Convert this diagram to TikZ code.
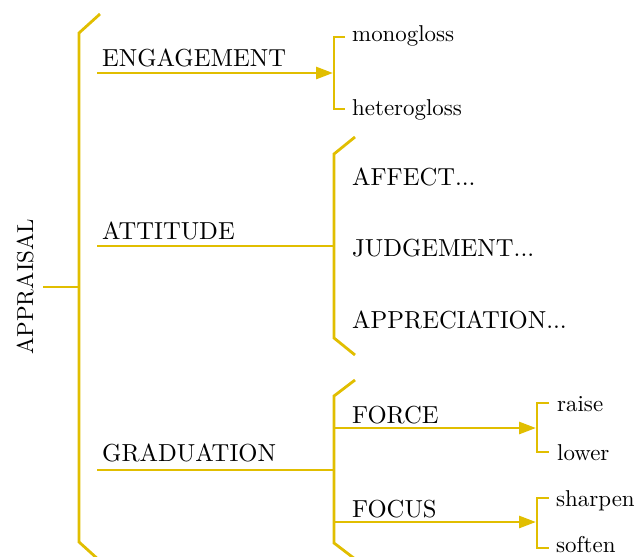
\documentclass[tikz,border=0pt]{standalone}
\usepackage{fontspec}
\setmainfont{lmroman10-regular}[Extension=.otf]
\usetikzlibrary{arrows.meta}
\definecolor{gold}{RGB}{225,190,0}
\tikzset{
  ln/.style={draw=gold, line width=2.8pt},
  arr/.style={ln, -{Triangle[length=17pt,width=12pt]}},
  captext/.style={anchor=base west, inner sep=0pt, font=\fontsize{24.6}{30}\selectfont},
  lowtext/.style={anchor=base west, inner sep=0pt, font=\fontsize{22.9}{28}\selectfont},
}
\begin{document}
\begin{tikzpicture}[x=1pt,y=-1pt]
\useasboundingbox (0,0) rectangle (638,557);
% root label
\node[rotate=90, anchor=base, inner sep=0pt, font=\fontsize{23}{28}\selectfont] (appr) at (33,287) {APPRAISAL};
% main bracket
\coordinate (m0) at (100,14);
\coordinate (m1) at (79,33);
\coordinate (m2) at (79,542);
\coordinate (m3) at (100,561);
\coordinate (mstem) at (79,287);
\coordinate (rootend) at (43,287);
\draw[ln] (m0) -- (m1) -- (m2) -- (m3);
\draw[ln] (rootend) -- (mstem);
% level 1 labels
\node[captext] (eng) at (102,66) {ENGAGEMENT};
\node[captext] (att) at (102,239) {ATTITUDE};
\node[captext] (gra) at (102,461) {GRADUATION};
\coordinate (engL) at (97,73);
\coordinate (attL) at (97,246);
\coordinate (graL) at (97,470);
% engagement
\coordinate (eb0) at (345,37);
\coordinate (eb1) at (334,37);
\coordinate (eb2) at (334,109);
\coordinate (eb3) at (345,109);
\coordinate (ebm) at (333,73);
\draw[ln] (eb0) -- (eb1) -- (eb2) -- (eb3);
\draw[arr] (engL) -- (ebm);
\node[lowtext] (mono) at (352,41) {monogloss};
\node[lowtext] (hetero) at (352,115) {heterogloss};
% attitude
\coordinate (ab0) at (355,137);
\coordinate (ab1) at (334,154);
\coordinate (ab2) at (334,338);
\coordinate (ab3) at (355,355);
\coordinate (abm) at (334,246);
\draw[ln] (ab0) -- (ab1) -- (ab2) -- (ab3);
\draw[ln] (attL) -- (abm);
\node[captext] (aff) at (352,185) {AFFECT...};
\node[captext] (jud) at (352,256) {JUDGEMENT...};
\node[captext] (app) at (352,328) {APPRECIATION...};
% graduation
\coordinate (gb0) at (355,380);
\coordinate (gb1) at (334,396);
\coordinate (gb2) at (334,543);
\coordinate (gb3) at (355,559);
\coordinate (gbm) at (334,470);
\coordinate (gbf) at (334,428);
\coordinate (gbc) at (334,522);
\draw[ln] (gb0) -- (gb1) -- (gb2) -- (gb3);
\draw[ln] (graL) -- (gbm);
\node[captext] (force) at (352,423) {FORCE};
\node[captext] (focus) at (352,517) {FOCUS};
% force bracket
\coordinate (fb0) at (549,403);
\coordinate (fb1) at (537,403);
\coordinate (fb2) at (537,452);
\coordinate (fb3) at (549,452);
\coordinate (fbm) at (536,428);
\draw[ln] (fb0) -- (fb1) -- (fb2) -- (fb3);
\draw[arr] (gbf) -- (fbm);
\node[lowtext] (raise) at (557,411) {raise};
\node[lowtext] (lower) at (557,460) {lower};
% focus bracket
\coordinate (cb0) at (549,498);
\coordinate (cb1) at (537,498);
\coordinate (cb2) at (537,548);
\coordinate (cb3) at (549,548);
\coordinate (cbm) at (536,522);
\draw[ln] (cb0) -- (cb1) -- (cb2) -- (cb3);
\draw[arr] (gbc) -- (cbm);
\node[lowtext] (sharpen) at (556,506) {sharpen};
\node[lowtext] (soften) at (556,552) {soften};
\end{tikzpicture}
\end{document}
